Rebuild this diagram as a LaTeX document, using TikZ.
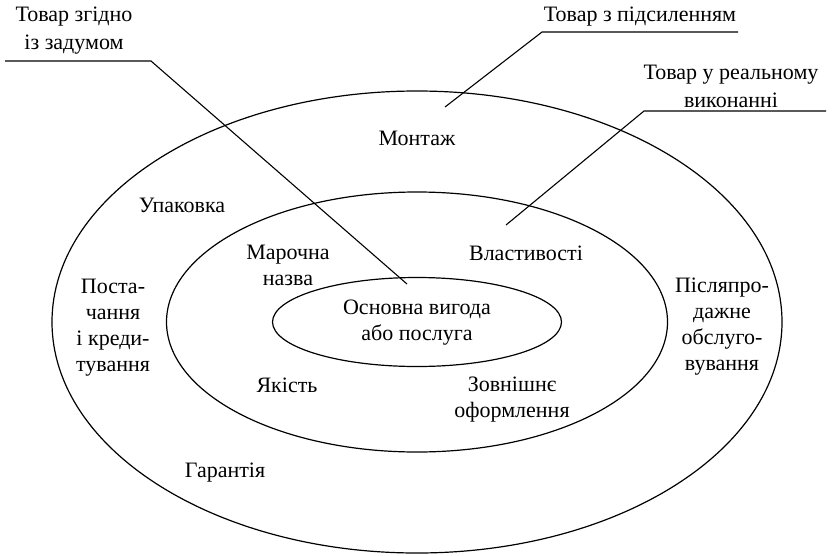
\documentclass[tikz,border=0pt]{standalone}
\usepackage{fontspec}
\setmainfont{Liberation Serif}
\usetikzlibrary{shapes.geometric}
\begin{document}
\begin{tikzpicture}[x=1pt,y=-1pt,
  ring/.style={draw, ellipse, line width=1.2pt, inner sep=0pt},
  lbl/.style={align=center, inner sep=0pt, font=\fontsize{22}{26}\selectfont},
  leader/.style={line width=1.1pt}]
\useasboundingbox (0,0) rectangle (832,555);
% ellipses
\node[ring, minimum width=730, minimum height=462] (outer) at (417,322) {};
\node[ring, minimum width=501, minimum height=260] (mid) at (417,322) {};
\node[ring, minimum width=289, minimum height=89] (core) at (417,322) {};
% inner labels
\node[lbl] (core txt) at (417,323) {Основна вигода\\або послуга};
\node[lbl] (brand) at (288,265) {Марочна\\назва};
\node[lbl] (props) at (526,253) {Властивості};
\node[lbl] (quality) at (287,385) {Якість};
\node[lbl] (design) at (512,400) {Зовнішнє\\оформлення};
% outer ring labels
\node[lbl] (mount) at (417,138) {Монтаж};
\node[lbl] (pack) at (182,205) {Упаковка};
\node[lbl] (supply) at (113,328) {Поста-\\чання\\і креди-\\тування};
\node[lbl] (warranty) at (225,473) {Гарантія};
\node[lbl] (service) at (722,327) {Післяпро-\\дажне\\обслуго-\\вування};
% leader labels
\node[lbl, font=\fontsize{22}{28}\selectfont] (idea) at (74,31) {Товар згідно\\із задумом};
\node[lbl] (augm) at (640,17) {Товар з підсиленням};
\node[lbl, font=\fontsize{22}{28}\selectfont] (real) at (731,86) {Товар у реальному\\виконанні};
% leader coordinates
\coordinate (i1) at (5,61);
\coordinate (i2) at (151,61);
\coordinate (i3) at (407,284);
\coordinate (a1) at (738,32);
\coordinate (a2) at (542,32);
\coordinate (a3) at (445,107);
\coordinate (r1) at (826,111);
\coordinate (r2) at (644,111);
\coordinate (r3) at (506,225);
\draw[leader] (i1) -- (i2) -- (i3);
\draw[leader] (a1) -- (a2) -- (a3);
\draw[leader] (r1) -- (r2) -- (r3);
\end{tikzpicture}
\end{document}
